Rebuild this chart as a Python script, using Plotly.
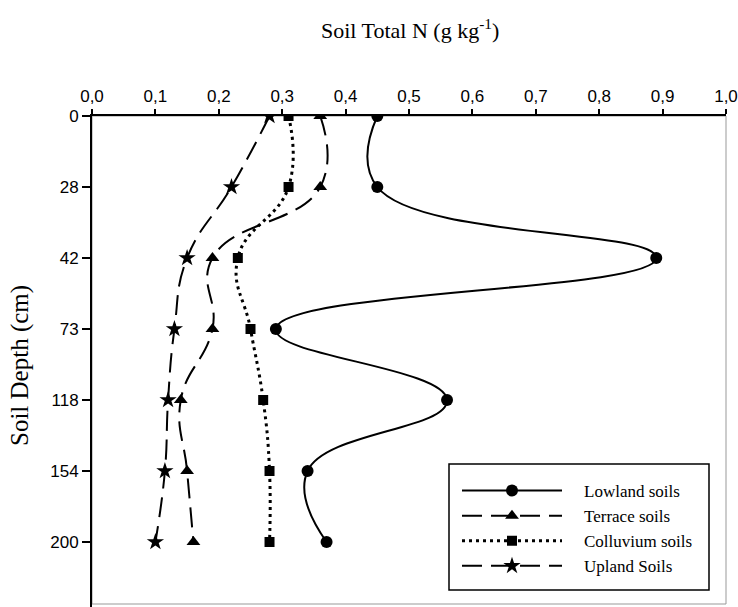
import plotly.graph_objects as go

depth_labels = ["0", "28", "42", "73", "118", "154", "200"]
depth_index = [0, 1, 2, 3, 4, 5, 6]

lowland = [0.45, 0.45, 0.89, 0.29, 0.56, 0.34, 0.37]
terrace = [0.36, 0.36, 0.19, 0.19, 0.14, 0.15, 0.16]
colluvium = [0.31, 0.31, 0.23, 0.25, 0.27, 0.28, 0.28]
upland = [0.28, 0.22, 0.15, 0.13, 0.12, 0.115, 0.10]

x_ticks = [0.0, 0.1, 0.2, 0.3, 0.4, 0.5, 0.6, 0.7, 0.8, 0.9, 1.0]

series = [
    ("Lowland soils", lowland, "solid", "circle", 12, 2),
    ("Terrace soils", terrace, "20px,9px", "triangle-up", 12, 2),
    ("Colluvium soils", colluvium, "3px,4px", "square", 10, 3),
    ("Upland Soils", upland, "20px,9px", "star", 13, 2),
]

W, H = 738, 607
L, R, T, B = 92, W - 726, 116, 0
PW, PH = W - L - R, H - T - B


def px(xs):
    """window x pixel -> paper x"""
    return (xs - L) / PW


def py(ys):
    """window y pixel -> paper y"""
    return (H - B - ys) / PH


y_bottom = (H - T) / 71.0  # 71 px per depth step, as in the reference

fig = go.Figure()
for name, vals, dash, sym, msize, lw in series:
    fig.add_trace(go.Scatter(
        x=vals, y=depth_index, name="\u00a0\u00a0\u00a0\u00a0" + name, mode="lines+markers",
        line=dict(color="black", width=lw, dash=dash, shape="spline", smoothing=1.3),
        marker=dict(symbol=sym, size=msize, color="black"),
    ))

fig.update_layout(
    width=W, height=H,
    margin=dict(l=L, r=R, t=T, b=B),
    paper_bgcolor="white", plot_bgcolor="white",
    separators=",.",
    font=dict(family="Liberation Sans", size=17, color="black"),
    xaxis=dict(
        side="top", range=[0, 1.0], tickvals=x_ticks, tickformat=".1f",
        showgrid=False, zeroline=False, showline=True, linecolor="black", linewidth=2,
        ticks="outside", ticklen=5, tickwidth=1.5, tickcolor="black",
        tickfont=dict(family="Liberation Sans", size=17), ticklabeloverflow="allow",
        automargin=False,
    ),
    yaxis=dict(
        range=[y_bottom, 0], tickvals=depth_index, ticktext=depth_labels,
        showgrid=False, zeroline=False, showline=True, linecolor="black", linewidth=2,
        ticks="outside", ticklen=8, tickwidth=1.5, tickcolor="black",
        tickfont=dict(family="Liberation Sans", size=17), automargin=False,
    ),
    showlegend=True,
    legend=dict(
        x=px(457), y=py(473), xanchor="left", yanchor="top",
        borderwidth=0, bgcolor="rgba(0,0,0,0)",
        font=dict(family="Liberation Serif", size=17),
        itemwidth=100, tracegroupgap=0,
    ),
    shapes=[
        dict(type="rect", xref="paper", yref="paper", x0=0, x1=1, y0=py(604), y1=1,
             line=dict(color="#999999", width=1), layer="below"),
        dict(type="rect", xref="paper", yref="paper", x0=px(449), x1=px(709),
             y0=py(590), y1=py(464), line=dict(color="black", width=1.5),
             fillcolor="white", layer="above"),
    ],
    annotations=[
        dict(text="Soil Total N (g kg<sup>-1</sup>)", xref="paper", yref="paper",
             x=px(410), y=py(29), xanchor="center", yanchor="middle",
             showarrow=False, font=dict(family="Liberation Serif", size=22)),
        dict(text="Soil Depth (cm)", xref="paper", yref="paper",
             x=px(20), y=py(366), xanchor="center", yanchor="middle",
             textangle=-90, showarrow=False, font=dict(family="Liberation Serif", size=25)),
    ],
)

fig.write_html(
    "out.html",
    config={"displayModeBar": False},
    post_script="document.body.style.margin='0';document.body.style.overflow='hidden';",
)
